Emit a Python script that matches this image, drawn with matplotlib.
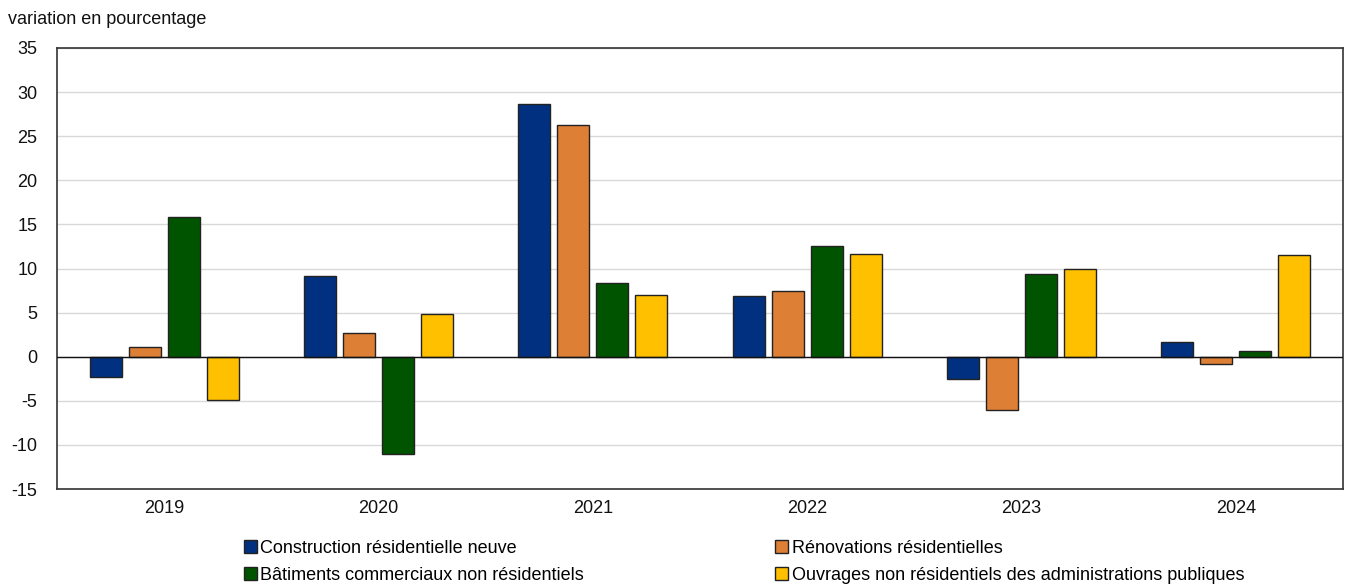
import matplotlib

matplotlib.use("Agg")
import matplotlib.pyplot as plt
import numpy as np

plt.rcParams["font.family"] = ["Liberation Sans", "DejaVu Sans"]
plt.rcParams["axes.unicode_minus"] = False

years = ["2019", "2020", "2021", "2022", "2023", "2024"]
series_names = [
    "Construction résidentielle neuve",
    "Rénovations résidentielles",
    "Bâtiments commerciaux non résidentiels",
    "Ouvrages non résidentiels des administrations publiques",
]
construction_neuve = [-2.3, 9.1, 28.7, 6.9, -2.5, 1.7]
renovations = [1.1, 2.7, 26.3, 7.5, -6.0, -0.8]
commerciaux = [15.8, -11.0, 8.4, 12.6, 9.4, 0.6]
administrations = [-4.9, 4.8, 7.0, 11.6, 10.0, 11.5]
colors = ["#00307F", "#DD7F35", "#005400", "#FFC000"]

values = [construction_neuve, renovations, commerciaux, administrations]

fig = plt.figure(figsize=(13.49, 5.86), dpi=100)
ax = fig.add_axes([57 / 1349, 1 - 489 / 586, 1286 / 1349, 441 / 586])

x = np.arange(len(years))
pitch = 0.182
width = 0.15
bars = []
for i, (name, vals, c) in enumerate(zip(series_names, values, colors)):
    b = ax.bar(x + (i - 1.5) * pitch, vals, width, color=c, edgecolor="#222222",
               linewidth=1.0, label=name, zorder=3)
    bars.append(b)

ax.set_xlim(-0.5, 5.5)
ax.set_ylim(-15, 35)
ax.set_yticks(range(-15, 36, 5))
ax.set_xticks(x)
ax.set_xticklabels(years)
ax.tick_params(length=0, labelsize=13, colors="#111111")
ax.tick_params(axis="y", pad=14)
ax.tick_params(axis="x", pad=8)
ax.grid(axis="y", color="#d9d9d9", linewidth=1, zorder=0)
ax.axhline(0, color="#111111", linewidth=1, zorder=4)
for side in ax.spines.values():
    side.set_color("#333333")
    side.set_linewidth(1.2)

fig.text(8 / 1349, 1 - 20 / 586, "variation en pourcentage", fontsize=13,
         va="center", ha="left", color="#111111")

# legend is read row by row in the reference, matplotlib fills columns first
order = [0, 2, 1, 3]
fig.legend([bars[k] for k in order], [series_names[k] for k in order],
           loc="upper left", bbox_to_anchor=(244 / 1349, 1 - 540 / 586), ncol=2,
           frameon=False, fontsize=13, handlelength=0.7, handleheight=0.7,
           handletextpad=0.2, columnspacing=10.6, labelspacing=0.55,
           borderaxespad=0, borderpad=0)

fig.savefig("out.png", dpi=100)
